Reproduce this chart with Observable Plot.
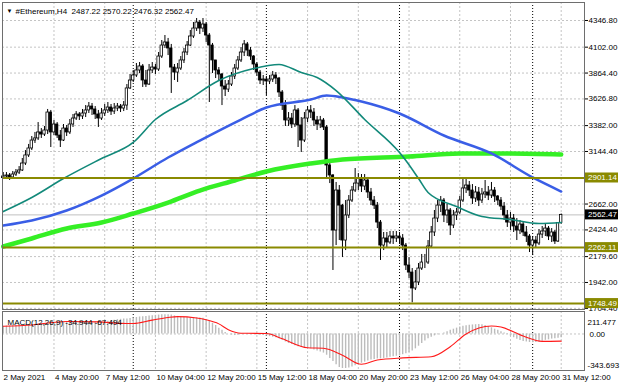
<!DOCTYPE html>
<html><head><meta charset="utf-8">
<script src="https://cdn.jsdelivr.net/npm/d3@7"></script>
<script src="https://cdn.jsdelivr.net/npm/@observablehq/plot@0.6"></script>
<style>
body{margin:0;background:#fff;}
#wrap{position:relative;width:620px;height:388px;background:#fff;overflow:hidden;}
#wrap svg{position:absolute;left:0;display:block;}
</style></head><body><div id="wrap"></div>
<script>
// ---- data (H4 bars, index 1..177 from 2 May 2021 00:00) ----
const firstOpen = 2900;
const closes = [2915,2924,2906,2933,2951,2970,3034,3108,3172,3245,
 3264,3319,3300,3337,3502,3319,3392,3291,3245,3355,
 3319,3392,3447,3484,3466,3493,3521,3557,3530,3484,
 3447,3493,3521,3548,3511,3539,3557,3539,3566,3723,
 3796,3842,3888,3925,3796,3759,3888,3915,3897,4016,
 4117,4145,4090,3915,3869,3906,3980,4053,4117,4200,
 4273,4328,4273,4310,4209,4117,3980,3888,3851,3741,
 3713,3759,3833,3906,3980,4053,4127,4071,4016,3943,
 3869,3796,3805,3787,3805,3842,3814,3686,3566,3429,
 3447,3392,3521,3383,3245,3447,3521,3502,3429,3392,
 3429,3365,3016,2924,2419,2786,2648,2327,2557,2694,
 2786,2850,2896,2823,2878,2768,2694,2648,2492,2281,
 2346,2309,2364,2346,2364,2346,2281,2098,2033,1887,
 1942,2070,2125,2125,2272,2401,2529,2648,2694,2557,
 2603,2465,2557,2584,2694,2805,2832,2786,2713,2768,
 2694,2750,2768,2740,2786,2731,2694,2639,2557,2492,
 2529,2456,2419,2474,2401,2364,2281,2327,2300,2382,
 2410,2437,2364,2401,2318,2487.22,2562.47];
const highs = [2951,2951,2942,2961,2979,3006,3080,3153,3209,3282,
 3319,3410,3355,3374,3530,3521,3429,3410,3337,3392,
 3383,3438,3484,3511,3502,3530,3566,3594,3585,3557,
 3521,3539,3576,3594,3576,3585,3585,3576,3603,3759,
 3851,3888,3952,3961,3943,3888,3943,3961,3943,4053,
 4163,4209,4182,4127,3943,3952,4016,4090,4154,4255,
 4328,4365,4347,4365,4328,4227,4136,3961,3915,3860,
 3796,3796,3869,3943,4016,4099,4163,4145,4099,4025,
 3961,3888,3842,3833,3842,3879,3869,3824,3704,3612,
 3502,3493,3566,3539,3456,3502,3557,3566,3539,3466,
 3466,3447,3383,3034,2933,2860,2832,2658,2694,2740,
 2823,2988,2942,2933,2933,2906,2805,2731,2676,2511,
 2401,2401,2410,2410,2410,2401,2382,2300,2171,2070,
 2052,2116,2199,2199,2327,2456,2603,2694,2731,2713,
 2658,2621,2603,2621,2731,2896,2887,2869,2841,2823,
 2814,2805,2878,2823,2860,2814,2740,2722,2676,2603,
 2584,2566,2529,2511,2492,2456,2382,2364,2364,2428,
 2456,2474,2456,2437,2419,2492,2570.22];
const lows = [2887,2887,2878,2896,2915,2933,2961,3016,3089,3153,
 3218,3245,3264,3282,3300,3181,3291,3264,3181,3236,
 3282,3300,3365,3429,3429,3438,3456,3493,3475,3438,
 3365,3429,3466,3493,3475,3484,3511,3502,3511,3521,
 3713,3778,3824,3860,3732,3732,3750,3860,3851,3879,
 3998,4090,4025,3677,3796,3778,3888,3952,4025,4108,
 4182,4246,4218,4237,4145,3594,3860,3814,3796,3566,
 3649,3686,3741,3805,3888,3961,4016,4016,3980,3888,
 3833,3759,3750,3658,3759,3778,3759,3640,3521,3374,
 3374,3355,3365,3181,3135,3227,3410,3447,3374,3337,
 3355,3337,2896,2850,2052,2281,2327,2171,2235,2529,
 2676,2768,2786,2768,2786,2713,2648,2612,2437,2144,
 2235,2254,2291,2291,2309,2291,2235,2052,1978,1755,
 1868,1914,2052,2070,2107,2254,2364,2492,2584,2492,
 2483,2373,2437,2511,2566,2676,2759,2731,2658,2676,
 2639,2667,2713,2694,2713,2676,2648,2603,2511,2447,
 2419,2401,2327,2382,2364,2309,2217,2189,2263,2281,
 2346,2364,2327,2309,2291,2309,2476.32];

// moving averages (bar index, value)
const tealIdx = [1,10,20,32,42,49,59,69,80,88,95,100,106,115,126,128,132,135,144,152,161,170,177];
const tealVal = [2593,2722,2896,3080,3227,3438,3612,3796,3906,3943,3869,3824,3704,3438,3135,3062,2896,2768,2639,2548,2520,2483,2492];
const blueIdx = [1,10,21,32,42,53,63,76,84,98,103,108,114,126,140,155,168,177];
const blueVal = [2465,2511,2603,2740,2896,3089,3245,3438,3548,3621,3658,3640,3603,3493,3291,3126,2906,2777];
const greenIdx = [1,10,21,32,42,53,63,74,84,98,108,129,145,161,177];
const greenVal = [2272,2346,2437,2492,2575,2676,2786,2878,2961,3034,3071,3098,3126,3126,3117];

// MACD(12,26,9)
const macdHist = [72,74,76,78,80,82,84,86,88,90,
 92,95,97,98,100,102,104,105,106,108,
 110,112,114,115,116,117,118,118,117,116,
 115,116,118,120,125,130,135,138,140,142,
 145,150,155,160,162,165,168,172,175,178,
 180,182,182,178,170,165,160,157,155,153,
 152,152,150,148,135,120,100,80,55,35,
 15,0,-10,-15,-12,-5,0,5,3,-2,
 -8,-12,-15,-20,-25,-30,-35,-45,-60,-75,
 -90,-100,-110,-120,-125,-130,-135,-140,-150,-160,
 -170,-180,-200,-230,-260,-290,-315,-325,-325,-320,
 -310,-300,-290,-275,-265,-255,-245,-240,-235,-235,
 -230,-225,-220,-215,-210,-205,-195,-185,-175,-160,
 -140,-115,-90,-65,-45,-30,-18,-8,0,10,
 20,35,45,55,65,72,78,82,85,87,
 88,86,80,70,58,45,35,22,10,-5,
 -20,-35,-50,-62,-70,-75,-80,-82,-80,-75,
 -68,-60,-55,-48,-45,-40,-34.944];
const sigIdx = [1,10,21,31,38,42,48,53,56,62,65,69,72,76,84,89,97,102,108,114,119,127,136,142,147,155,158,165,171,177];
const sigVal = [72,85,118,114,100,98,130,155,163,150,133,95,40,7,5,-45,-130,-135,-200,-285,-245,-225,-215,-120,0,75,65,-20,-70,-67.494];
const macdScale = [211.477, 0, -343.693];

// levels, ticks, labels
const levels = [2901.14, 2262.11, 1748.49];
const lastPrice = 2562.47;
const priceTicks = [4346.8,4102.0,3864.4,3626.8,3382.0,3144.4,2662.0,2424.4,2179.6,1942.0,1704.4];
const timeIdx = [0,17,33,49,65,81,97,113,129,145,161,177];
const timeLabels = ["2 May 2021","4 May 20:00","7 May 12:00","10 May 04:00","12 May 20:00","15 May 12:00","18 May 04:00","20 May 20:00","23 May 12:00","26 May 04:00","28 May 20:00","31 May 12:00"];
const weekSep = [42,84,126,168];
const header = "#Ethereum,H4  2487.22 2570.22 2476.32 2562.47";
const macdTitle = "MACD(12,26,9) -34.944 -67.494";

// ---- build ----
const bars = closes.map((c, k) => {
  const o = k ? closes[k - 1] : firstOpen;
  return {i: k + 1, o, c, h: Math.max(highs[k], o, c), l: Math.min(lows[k], o, c)};
});
const pairs = (idx, val) => idx.map((i, k) => ({i, v: val[k]}));
const hist = macdHist.map((v, k) => ({i: k + 1, v}));

const FONT = "'Liberation Sans', Arial, sans-serif";
const xDomain = [0.76, 184.35];
const gridStyle = {stroke: "#c4c4c4", strokeDasharray: "2,2"};
const wrap = document.getElementById("wrap");

const main = Plot.plot({
  width: 620, height: 311,
  marginLeft: 2, marginRight: 36, marginTop: 2, marginBottom: 2,
  x: {domain: xDomain, axis: null},
  y: {domain: [1694, 4512], axis: null},
  style: {fontFamily: FONT, fontSize: "8px", color: "#000", background: "transparent", overflow: "visible"},
  marks: [
    Plot.ruleY(priceTicks, gridStyle),
    Plot.ruleX(timeIdx.slice(1), gridStyle),
    Plot.ruleX(weekSep, {stroke: "#000", strokeDasharray: "1,2"}),
    Plot.ruleY([lastPrice], {stroke: "#c0c0c0"}),
    Plot.ruleX(bars, {x: "i", y1: "l", y2: "h", stroke: "#000", strokeWidth: 1}),
    Plot.rect(bars, {x1: d => d.i - 0.38, x2: d => d.i + 0.38, y1: "o", y2: "c",
      fill: d => d.c >= d.o ? "#fff" : "#000", stroke: "#000", strokeWidth: 0.8}),
    Plot.line(pairs(greenIdx, greenVal), {x: "i", y: "v", stroke: "#35ef25", strokeWidth: 4.5, curve: "monotone-x"}),
    Plot.line(pairs(blueIdx, blueVal), {x: "i", y: "v", stroke: "#3a5ee6", strokeWidth: 2.5, curve: "monotone-x"}),
    Plot.line(pairs(tealIdx, tealVal), {x: "i", y: "v", stroke: "#12897a", strokeWidth: 1.6, curve: "monotone-x"}),
    Plot.ruleY(levels, {stroke: "#8a8a00", strokeWidth: 2}),
    Plot.axisY(priceTicks, {anchor: "right", tickSize: 3, tickPadding: 1, tickFormat: d => d.toFixed(2), fontSize: 8}),
    Plot.frame({stroke: "#6e6e6e"}),
    Plot.text(["\u25BC"], {frameAnchor: "top-left", dx: 4, dy: 6, fontSize: 6, textAnchor: "start"}),
    Plot.text([header], {frameAnchor: "top-left", dx: 13, dy: 6, fontSize: 8, textAnchor: "start"})
  ]
});
main.style.top = "0px";
wrap.appendChild(main);

// value boxes on the price axis
{
  const ys = main.scale("y"), xs = main.scale("x");
  const x0 = xs.range[1] + 1;
  const svg = d3.select(main);
  const boxes = levels.map(v => ({v, fill: "#8a8a00"})).concat([{v: lastPrice, fill: "#000"}]);
  for (const b of boxes) {
    const y = ys.apply(b.v);
    svg.append("rect").attr("x", x0).attr("y", y - 5).attr("width", 33).attr("height", 10).attr("fill", b.fill);
    svg.append("text").attr("x", x0 + 3).attr("y", y).attr("dy", "0.32em").attr("text-anchor", "start")
      .attr("fill", "#fff").attr("font-size", 8).attr("font-family", FONT).text(b.v.toFixed(2));
  }
}

const macd = Plot.plot({
  width: 620, height: 78,
  marginLeft: 2, marginRight: 36, marginTop: 1, marginBottom: 18,
  x: {domain: xDomain, axis: null},
  y: {domain: [macdScale[2], macdScale[0]], axis: null},
  style: {fontFamily: FONT, fontSize: "8px", color: "#000", background: "transparent", overflow: "visible"},
  marks: [
    Plot.ruleY([0], gridStyle),
    Plot.ruleX(timeIdx.slice(1), gridStyle),
    Plot.ruleX(weekSep, {stroke: "#000", strokeDasharray: "1,2"}),
    Plot.ruleX(hist, {x: "i", y1: 0, y2: "v", stroke: "#bcbcbc", strokeWidth: 1.4}),
    Plot.line(pairs(sigIdx, sigVal), {x: "i", y: "v", stroke: "#ff1a1a", strokeWidth: 1.1, curve: "monotone-x"}),
    Plot.frame({stroke: "#6e6e6e"}),
    Plot.text([macdScale[0]], {frameAnchor: "top-right", dx: 3, dy: 8, textAnchor: "start", text: d => d.toFixed(3)}),
    Plot.text([macdScale[1]], {x: () => xDomain[1], y: d => d, dx: 5, textAnchor: "start", text: d => d.toFixed(2)}),
    Plot.text([macdScale[2]], {frameAnchor: "bottom-right", dx: 3, dy: -3, textAnchor: "start", text: d => d.toFixed(3)}),
    Plot.text([macdTitle], {frameAnchor: "top-left", dx: 5, dy: 8, textAnchor: "start"}),
    Plot.text(timeIdx, {x: d => Math.max(d, xDomain[0]), text: (d, k) => timeLabels[k], frameAnchor: "bottom", dy: 9, dx: 1, textAnchor: "start"})
  ]
});
macd.style.top = "310px";
wrap.appendChild(macd);
</script>
</body></html>
